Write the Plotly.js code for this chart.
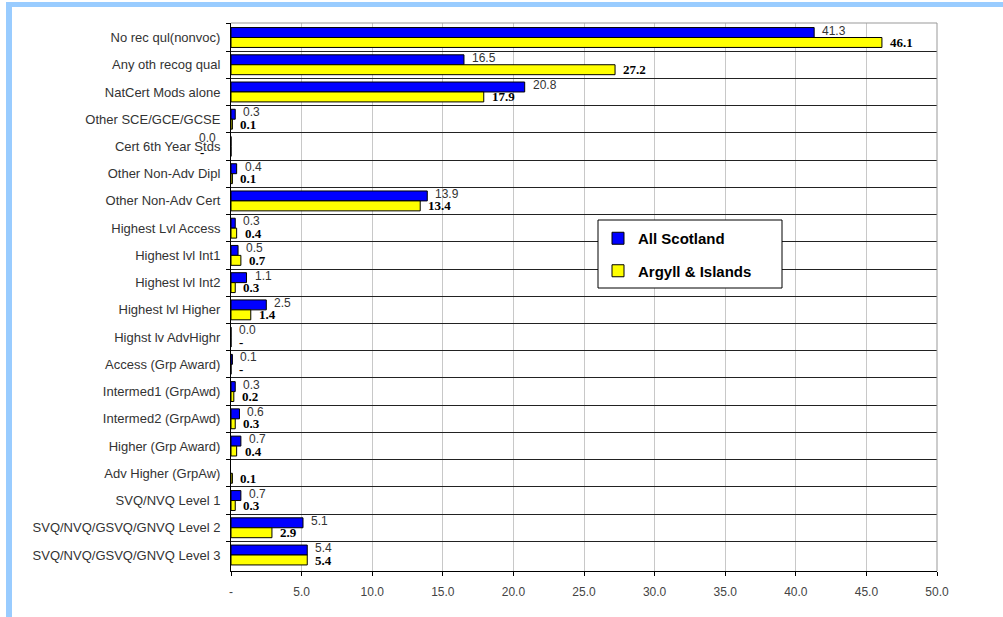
<!DOCTYPE html>
<html>
<head>
<meta charset="utf-8">
<script src="https://cdn.plot.ly/plotly-3.0.1.min.js"></script>
<style>
  html, body { margin: 0; padding: 0; background: #ffffff; }
  #chart { width: 1003px; height: 617px; }
</style>
</head>
<body>
<div id="chart"></div>
<script>
// Qualification categories, top to bottom
const categories = [
  'No rec qul(nonvoc)',
  'Any oth recog qual',
  'NatCert Mods alone',
  'Other SCE/GCE/GCSE',
  'Cert 6th Year Stds',
  'Other Non-Adv Dipl',
  'Other Non-Adv Cert',
  'Highest Lvl Access',
  'Highest lvl Int1',
  'Highest lvl Int2',
  'Highest lvl Higher',
  'Highst lv AdvHighr',
  'Access (Grp Award)',
  'Intermed1 (GrpAwd)',
  'Intermed2 (GrpAwd)',
  'Higher (Grp Award)',
  'Adv Higher (GrpAw)',
  'SVQ/NVQ Level 1',
  'SVQ/NVQ/GSVQ/GNVQ Level 2',
  'SVQ/NVQ/GSVQ/GNVQ Level 3'
];

// Percentages
const allScotland = [41.3, 16.5, 20.8, 0.3, 0.0, 0.4, 13.9, 0.3, 0.5, 1.1, 2.5, 0.0, 0.1, 0.3, 0.6, 0.7, null, 0.7, 5.1, 5.4];
const argyllIslands = [46.1, 27.2, 17.9, 0.1, 0, 0.1, 13.4, 0.4, 0.7, 0.3, 1.4, 0, 0, 0.2, 0.3, 0.4, 0.1, 0.3, 2.9, 5.4];

const seriesNames = ['All Scotland', 'Argyll & Islands'];

const xTickVals = [0, 5, 10, 15, 20, 25, 30, 35, 40, 45, 50];
const xTickText = ['-', '5.0', '10.0', '15.0', '20.0', '25.0', '30.0', '35.0', '40.0', '45.0', '50.0'];

// Row whose labels sit to the left of the axis
const leftLabelRow = 'Cert 6th Year Stds';

// Plot-area geometry in pixels, used to place paper-space decorations
const W = 1003, H = 617;
const M = { l: 231, r: 66, t: 23, b: 46 };
const plotW = W - M.l - M.r, plotH = H - M.t - M.b;
const px = x => (x - M.l) / plotW;
const py = y => (H - M.b - y) / plotH;

// Accounting-style number format: zero shows as a dash
const fmt = v => (v === null ? '' : (v === 0 ? '-' : v.toFixed(1)));
const fmtSmall = v => (v === null ? '' : v.toFixed(1));

const traces = [
  {
    type: 'bar', orientation: 'h', name: seriesNames[0], legendgroup: 'a',
    y: categories, x: allScotland,
    marker: { color: '#0000ff', line: { color: '#000000', width: 1 } },
    hoverinfo: 'skip'
  },
  {
    type: 'bar', orientation: 'h', name: seriesNames[1], legendgroup: 'b',
    y: categories, x: argyllIslands,
    marker: { color: '#ffff00', line: { color: '#000000', width: 1 } },
    hoverinfo: 'skip'
  }
];

const blueFont = { family: 'Liberation Sans, Arial, sans-serif', size: 12, color: '#333333' };
const yellowFont = { family: 'Liberation Serif, Times New Roman, serif', size: 13, color: '#000000', weight: 'bold' };

const annotations = [];
categories.forEach((c, i) => {
  const a = allScotland[i], b = argyllIslands[i];
  if (c === leftLabelRow) {
    annotations.push({ x: 0, y: c, xref: 'x', yref: 'y', text: fmtSmall(a), showarrow: false,
      xanchor: 'right', xshift: -13, yshift: 8, font: blueFont });
    annotations.push({ x: 0, y: c, xref: 'x', yref: 'y', text: fmt(b), showarrow: false,
      xanchor: 'right', xshift: -25, yshift: -6, font: yellowFont });
    return;
  }
  if (a !== null) {
    annotations.push({ x: a, y: c, xref: 'x', yref: 'y', text: fmtSmall(a), showarrow: false,
      xanchor: 'left', xshift: 6, yshift: 7, font: blueFont });
  }
  if (b !== null) {
    annotations.push({ x: b, y: c, xref: 'x', yref: 'y', text: fmt(b), showarrow: false,
      xanchor: 'left', xshift: 6, yshift: -5, font: yellowFont });
  }
});

const shapes = [
  // light blue frame along the top and left edges
  { type: 'rect', xref: 'paper', yref: 'paper', x0: px(6), x1: px(W), y0: py(2), y1: py(7),
    fillcolor: '#99ccff', line: { width: 0 }, layer: 'below' },
  { type: 'rect', xref: 'paper', yref: 'paper', x0: px(6), x1: px(12), y0: py(2), y1: py(H),
    fillcolor: '#99ccff', line: { width: 0 }, layer: 'below' },
  // grey top and right border of the plot area
  { type: 'line', xref: 'paper', yref: 'paper', x0: 0, x1: 1, y0: 1, y1: 1,
    line: { color: '#999999', width: 1 } },
  { type: 'line', xref: 'paper', yref: 'paper', x0: 1, x1: 1, y0: 0, y1: 1,
    line: { color: '#999999', width: 1 } },
  // legend box
  { type: 'rect', xref: 'paper', yref: 'paper', x0: px(598), x1: px(782), y0: py(288), y1: py(220),
    fillcolor: '#ffffff', line: { color: '#000000', width: 1 } }
];

const layout = {
  width: W, height: H,
  margin: M,
  paper_bgcolor: '#ffffff',
  plot_bgcolor: '#ffffff',
  barmode: 'group',
  bargap: 0.27,
  bargroupgap: 0,
  showlegend: true,
  legend: {
    x: px(598), y: py(222), xanchor: 'left', yanchor: 'top',
    bgcolor: 'rgba(0,0,0,0)', borderwidth: 0,
    traceorder: 'grouped', tracegroupgap: 10,
    font: { family: 'Liberation Sans, Arial, sans-serif', size: 15, color: '#000000', weight: 'bold' }
  },
  xaxis: {
    range: [0, 50],
    tickvals: xTickVals, ticktext: xTickText,
    showgrid: true, gridcolor: '#c8c8c8', gridwidth: 1,
    zeroline: false,
    showline: true, linecolor: '#000000', linewidth: 1,
    ticks: 'outside', ticklen: 4, tickcolor: '#000000',
    ticklabelstandoff: 6,
    tickfont: { family: 'Liberation Sans Narrow, Arial Narrow, Liberation Sans, sans-serif', size: 12, color: '#444444' },
    fixedrange: true
  },
  yaxis: {
    type: 'category',
    categoryorder: 'array', categoryarray: categories,
    autorange: 'reversed',
    tickson: 'boundaries',
    showgrid: true, gridcolor: '#222222', gridwidth: 1,
    showline: true, linecolor: '#000000', linewidth: 1,
    ticks: 'outside', ticklen: 4, tickcolor: '#000000',
    ticklabelstandoff: 7,
    tickfont: { family: 'Liberation Sans, Arial, sans-serif', size: 13, color: '#333333' },
    fixedrange: true
  },
  annotations: annotations,
  shapes: shapes
};

Plotly.newPlot('chart', traces, layout, { displayModeBar: false, staticPlot: true });
</script>
</body>
</html>
